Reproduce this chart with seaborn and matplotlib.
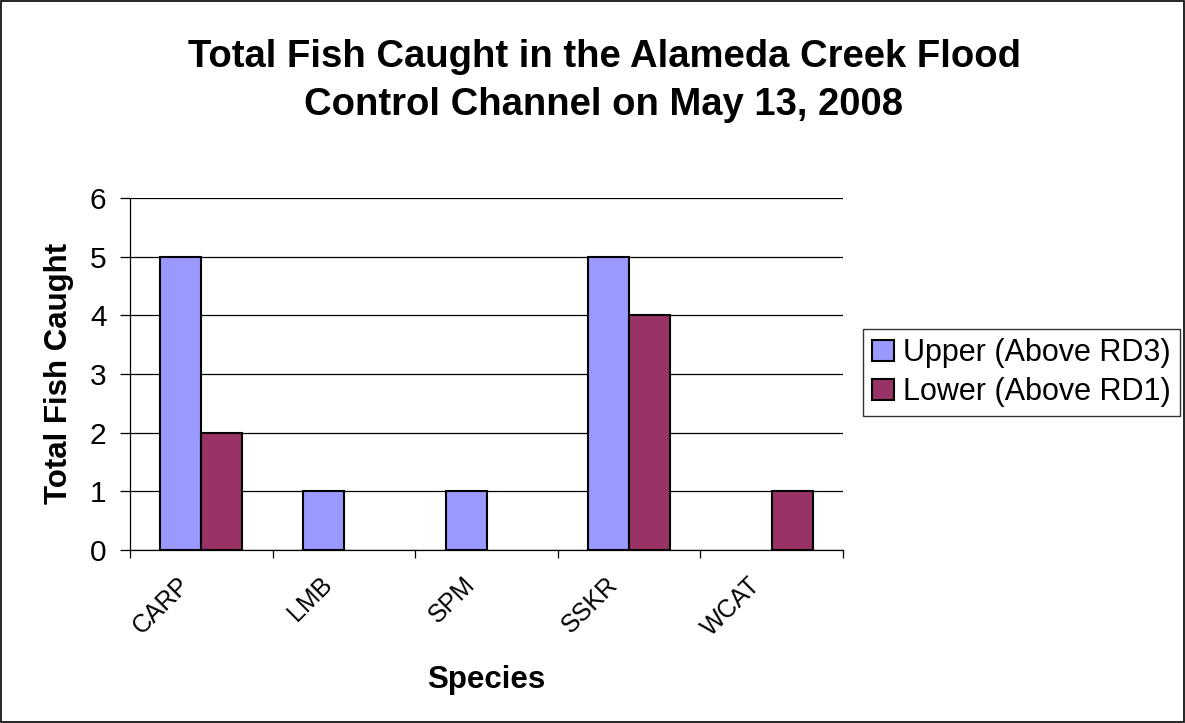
import matplotlib
matplotlib.use("Agg")
import matplotlib.pyplot as plt
import seaborn as sns
import pandas as pd
from matplotlib.patches import Rectangle, Patch
from matplotlib.ticker import FixedLocator
from matplotlib.transforms import ScaledTranslation

species = ["CARP", "LMB", "SPM", "SSKR", "WCAT"]
upper = [5, 1, 1, 5, 0]
lower = [2, 0, 0, 4, 1]
series_names = ["Upper (Above RD3)", "Lower (Above RD1)"]
colors = ["#9999FF", "#993366"]

df = pd.DataFrame({
    "Species": species * 2,
    "Count": upper + lower,
    "Site": [series_names[0]] * len(species) + [series_names[1]] * len(species),
})

sns.set_theme(style="white")
plt.rcParams["font.family"] = ["Liberation Sans", "DejaVu Sans"]

fig = plt.figure(figsize=(11.85, 7.23), dpi=100)
ax = fig.add_axes([130/1185, 1-550/723, 713/1185, 352/723])

sns.barplot(data=df, x="Species", y="Count", hue="Site", order=species,
            hue_order=series_names, palette=colors, width=0.575,
            edgecolor="black", linewidth=1.5, saturation=1, ax=ax,
            errorbar=None, legend=False)

for p in ax.patches:
    if p.get_height() == 0:
        p.set_visible(False)

ax.set_xlim(-0.5, len(species) - 0.5)
ax.set_ylim(0, 6)
ax.set_yticks(range(0, 7))
ax.yaxis.grid(True, color="black", linewidth=0.9)
ax.set_axisbelow(True)

for s in ["top", "right"]:
    ax.spines[s].set_visible(False)
for s in ["left", "bottom"]:
    ax.spines[s].set_color("black")
    ax.spines[s].set_linewidth(0.9)

ax.tick_params(axis="y", which="major", direction="out", length=7, width=0.9,
               color="black", labelsize=21.5, pad=10, left=True, labelcolor="black")
ax.tick_params(axis="x", which="major", length=0, labelsize=18, pad=14, labelcolor="black")
ax.xaxis.set_minor_locator(FixedLocator([i - 0.5 for i in range(len(species) + 1)]))
ax.tick_params(axis="x", which="minor", direction="out", length=6, width=0.9,
               color="black", bottom=True)
ax.set_xticks(range(len(species)))
ax.set_xticklabels(species, rotation=45, ha="right", rotation_mode="anchor")
offset = ScaledTranslation(-24/100, -3/100, fig.dpi_scale_trans)
for lbl in ax.get_xticklabels():
    lbl.set_transform(lbl.get_transform() + offset)

ax.set_xlabel("Species", fontsize=22.5, fontweight="bold", color="black")
ax.set_ylabel("Total Fish Caught", fontsize=22.5, fontweight="bold", color="black")
ax.xaxis.set_label_coords(0.5, -0.369)
ax.xaxis.label.set_va("center")
ax.yaxis.set_label_coords(-0.099, 0.503)
ax.yaxis.label.set_va("center")

fig.text(604/1185, 1-81/723,
         "Total Fish Caught in the Alameda Creek Flood\nControl Channel on May 13, 2008",
         ha="center", va="center", fontsize=27.5, fontweight="bold",
         linespacing=1.45, color="black")

handles = [Patch(facecolor=c, edgecolor="black", linewidth=1.5) for c in colors]
leg = ax.legend(handles, series_names, loc="upper left",
                bbox_to_anchor=(863/1185, 1-329/723),
                bbox_transform=fig.transFigure, fontsize=22, frameon=True,
                fancybox=False, shadow=False, borderpad=0.3, labelspacing=0.3,
                handlelength=0.7, handleheight=0.7, handletextpad=0.3,
                borderaxespad=0)
leg.get_frame().set_edgecolor("black")
leg.get_frame().set_linewidth(1)
for t in leg.get_texts():
    t.set_color("black")

fig.patches.append(Rectangle((0.0008, 0.0012), 0.9984, 0.9976, transform=fig.transFigure,
                             fill=False, edgecolor="black", linewidth=1.2))

fig.savefig("out.png", dpi=100, facecolor="white")
